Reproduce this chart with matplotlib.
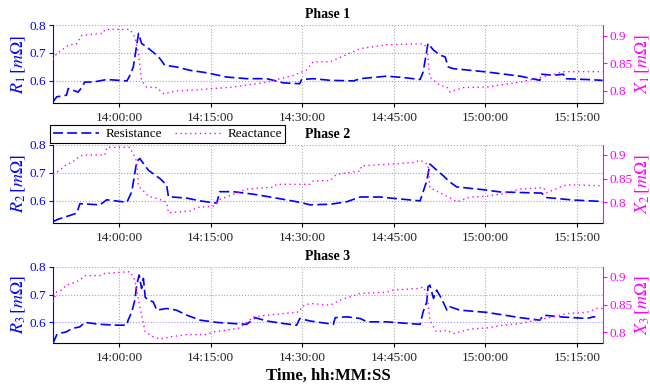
import numpy as np
import pandas as pd
import matplotlib
matplotlib.use('Agg')
import matplotlib.pyplot as plt
import matplotlib.dates as mdates

plt.rcParams['font.family'] = ['Liberation Serif', 'DejaVu Serif']
plt.rcParams['mathtext.fontset'] = 'stix'

# time in minutes after 14:00:00, values in mOhm
r1_t = [-10.8, -10.2, -8.6, -8.3, -6.7, -6.1, -5.6, -4.2, -2.0, 1.3, 1.8, 2.35, 3.2, 3.7, 4.5,
        6.2, 6.7, 7.5, 9.4, 11.6, 14.4, 17.6, 20.9, 24.2, 25.3, 26.9, 29.6, 29.9, 31.8, 34.6,
        38.4, 39.5, 43.8, 46.6, 49.3, 49.8, 50.6, 51.5, 52.6, 53.4, 53.9, 54.7, 60.2, 65.7,
        68.9, 69.2, 71.1, 72.8, 73.0, 76.6, 79.2]
r1_v = [0.525, 0.543, 0.549, 0.573, 0.560, 0.576, 0.596, 0.596, 0.605, 0.600, 0.620, 0.650, 0.770, 0.734, 0.722,
        0.692, 0.680, 0.656, 0.650, 0.638, 0.629, 0.614, 0.608, 0.608, 0.602, 0.593, 0.590, 0.605, 0.608, 0.602,
        0.600, 0.608, 0.617, 0.612, 0.605, 0.632, 0.734, 0.710, 0.692, 0.686, 0.650, 0.644, 0.632, 0.617,
        0.602, 0.624, 0.620, 0.624, 0.608, 0.605, 0.602]
x1_t = [-10.8, -10.2, -8.3, -6.9, -6.1, -2.6, -2.3, 1.8, 2.6, 3.2, 3.7, 4.5, 6.2, 7.3, 9.4, 12.7,
        18.7, 24.2, 28.5, 30.7, 31.8, 34.6, 36.2, 39.5, 43.8, 49.8, 50.4, 50.9, 52.6, 53.7, 54.2,
        56.4, 60.2, 65.7, 71.1, 72.8, 79.2]
x1_v = [0.857, 0.868, 0.883, 0.886, 0.901, 0.905, 0.912, 0.912, 0.898, 0.868, 0.819, 0.807, 0.806, 0.795, 0.800, 0.802,
        0.807, 0.816, 0.828, 0.838, 0.853, 0.853, 0.861, 0.877, 0.884, 0.886, 0.880, 0.825, 0.810, 0.807, 0.798,
        0.806, 0.807, 0.816, 0.830, 0.835, 0.835]

r2_t = [-10.8, -9.9, -8.6, -6.9, -6.4, -3.1, -2.0, 1.3, 2.1, 2.9, 3.4, 4.8, 6.7, 7.8, 8.1, 11.1,
        13.3, 16.0, 16.5, 18.7, 22.0, 25.3, 29.6, 31.3, 34.6, 37.3, 39.5, 42.7, 49.3, 50.4, 50.9,
        52.3, 53.1, 54.2, 55.3, 57.5, 59.7, 62.4, 65.7, 69.2, 70.0, 74.4, 79.2]
r2_v = [0.526, 0.535, 0.544, 0.556, 0.590, 0.586, 0.604, 0.595, 0.633, 0.740, 0.752, 0.710, 0.680, 0.657, 0.615, 0.610,
        0.600, 0.592, 0.633, 0.633, 0.624, 0.612, 0.595, 0.586, 0.588, 0.597, 0.614, 0.614, 0.600, 0.672, 0.732,
        0.705, 0.690, 0.667, 0.650, 0.645, 0.640, 0.632, 0.630, 0.628, 0.612, 0.603, 0.598]
x2_t = [-10.8, -9.9, -8.6, -7.7, -6.4, -5.3, -2.3, -2.0, 1.8, 2.9, 3.2, 4.0, 4.8, 6.7, 7.8, 8.1,
        11.9, 12.7, 15.4, 16.5, 18.7, 20.9, 25.3, 25.8, 31.3, 31.8, 34.6, 35.6, 39.5, 39.7, 43.8,
        48.2, 49.3, 50.6, 50.9, 52.6, 54.7, 55.3, 57.5, 60.2, 62.9, 65.7, 69.5, 70.0, 72.2, 73.3, 79.2]
x2_v = [0.859, 0.866, 0.880, 0.884, 0.898, 0.900, 0.900, 0.916, 0.916, 0.887, 0.834, 0.824, 0.813, 0.806, 0.800, 0.778,
        0.782, 0.789, 0.792, 0.806, 0.817, 0.828, 0.832, 0.838, 0.838, 0.845, 0.846, 0.859, 0.866, 0.877, 0.880,
        0.884, 0.889, 0.880, 0.831, 0.820, 0.806, 0.801, 0.811, 0.813, 0.818, 0.828, 0.831, 0.820, 0.832, 0.837, 0.835]

r3_t = [-10.8, -10.2, -9.9, -8.6, -7.7, -6.4, -5.6, -3.1, -0.4, 1.3, 1.5, 2.1, 2.6, 2.9, 3.3, 3.7,
        4.0, 4.3, 4.8, 5.6, 6.2, 7.8, 9.4, 11.1, 13.3, 16.0, 18.7, 20.9, 22.3, 24.2, 26.9, 29.1,
        29.6, 31.3, 35.1, 35.4, 37.3, 39.5, 40.6, 43.8, 49.3, 49.8, 50.4, 50.6, 50.9, 51.5, 52.0,
        52.8, 53.7, 54.2, 55.8, 60.2, 65.7, 68.9, 69.5, 72.2, 76.6, 77.7, 78.0]
r3_v = [0.525, 0.555, 0.560, 0.566, 0.578, 0.584, 0.600, 0.593, 0.590, 0.590, 0.608, 0.638, 0.680, 0.734, 0.770, 0.722,
        0.758, 0.690, 0.680, 0.674, 0.644, 0.650, 0.644, 0.626, 0.608, 0.600, 0.596, 0.593, 0.617, 0.605, 0.596, 0.590,
        0.614, 0.605, 0.593, 0.617, 0.620, 0.614, 0.602, 0.602, 0.593, 0.638, 0.674, 0.728, 0.734, 0.686, 0.716,
        0.686, 0.644, 0.656, 0.644, 0.636, 0.617, 0.608, 0.626, 0.620, 0.614, 0.620, 0.620]
x3_t = [-10.8, -10.2, -9.4, -8.6, -7.7, -6.4, -5.6, -3.1, -2.3, 1.8, 2.6, 3.2, 3.7, 4.3, 5.6, 6.7,
        8.4, 11.1, 14.4, 15.4, 17.6, 19.8, 22.0, 25.3, 29.6, 29.9, 31.3, 34.6, 36.2, 39.5, 43.8,
        44.9, 49.3, 49.8, 50.4, 50.6, 50.9, 51.5, 52.0, 53.7, 54.7, 55.8, 57.5, 60.2, 62.9, 65.7,
        68.4, 71.1, 73.3, 76.6, 78.2, 79.2]
x3_v = [0.855, 0.873, 0.876, 0.885, 0.888, 0.894, 0.902, 0.902, 0.906, 0.909, 0.894, 0.858, 0.831, 0.801, 0.792, 0.788,
        0.792, 0.796, 0.796, 0.801, 0.804, 0.808, 0.828, 0.832, 0.837, 0.846, 0.852, 0.849, 0.858, 0.870, 0.872,
        0.876, 0.879, 0.882, 0.870, 0.855, 0.822, 0.810, 0.801, 0.804, 0.798, 0.801, 0.806, 0.808, 0.813, 0.816,
        0.822, 0.828, 0.834, 0.836, 0.843, 0.843]

phases = ['Phase 1', 'Phase 2', 'Phase 3']
r_times = [r1_t, r2_t, r3_t]
r_vals = [r1_v, r2_v, r3_v]
x_times = [x1_t, x2_t, x3_t]
x_vals = [x1_v, x2_v, x3_v]
r_lims = [(0.521, 0.80), (0.522, 0.80), (0.526, 0.80)]
x_lims = [(0.778, 0.920), (0.757, 0.921), (0.781, 0.918)]

base = pd.Timestamp('2020-01-01 14:00:00')
def to_time(mins):
    return base + pd.to_timedelta(np.array(mins), unit='min')

blue = '#0000ff'
mag = '#ff00ff'
fig = plt.figure(figsize=(6.5, 3.87), dpi=100)
lefts = 53 / 650
width = 550 / 650
bottoms = [1 - 103 / 387, 1 - 222.7 / 387, 1 - 343 / 387]
heights = [78 / 387, 77.7 / 387, 76.3 / 387]

for i in range(3):
    ax = fig.add_axes([lefts, bottoms[i], width, heights[i]])
    ax2 = ax.twinx()
    lr, = ax.plot(to_time(r_times[i]), r_vals[i], color=blue, lw=1.2, linestyle=(0, (6, 2.5)),
                  label='Resistance')
    lx, = ax2.plot(to_time(x_times[i]), x_vals[i], color=mag, lw=1.0, linestyle=(0, (1, 2.5)),
                   label='Reactance')
    ax.set_xlim(to_time([-10.8])[0], to_time([79.25])[0])
    ax.set_ylim(*r_lims[i])
    ax2.set_ylim(*x_lims[i])
    ax.set_yticks([0.6, 0.7, 0.8])
    ax2.set_yticks([0.8, 0.85, 0.9])
    ax2.set_yticklabels(['0.8', '0.85', '0.9'])
    ax.xaxis.set_major_locator(mdates.MinuteLocator(byminute=[0, 15, 30, 45]))
    ax.xaxis.set_major_formatter(mdates.DateFormatter('%H:%M:%S'))
    ax.yaxis.grid(True, color='#9999ff', linestyle=':', lw=0.8)
    ax.xaxis.grid(True, color='#aaaaaa', linestyle=':', lw=0.8)
    for a in (ax, ax2):
        a.spines['top'].set_visible(False)
    ax.spines['right'].set_visible(False)
    ax2.spines['left'].set_visible(False)
    ax2.spines['bottom'].set_visible(False)
    ax.spines['left'].set_color(blue)
    ax2.spines['right'].set_color(mag)
    ax.tick_params(axis='y', colors=blue, labelsize=9.5, length=3, pad=2)
    ax2.tick_params(axis='y', colors=mag, labelsize=9.5, length=3, pad=2)
    ax.tick_params(axis='x', labelsize=9.5, labelcolor='#222222', length=3)
    ax.set_ylabel(r'$R_{%d}\,[m\Omega]$' % (i + 1), color=blue, fontsize=13, labelpad=1)
    ax2.set_ylabel(r'$X_{%d}\,[m\Omega]$' % (i + 1), color=mag, fontsize=13, labelpad=0)
    ax.set_title(phases[i], fontsize=10, fontweight='bold', pad=5)
    if i == 2:
        ax.set_xlabel('Time, hh:MM:SS', fontsize=12, fontweight='bold', labelpad=3)
    if i == 1:
        leg = fig.legend([lr, lx], ['Resistance', 'Reactance'], ncol=2, loc='lower left',
                         bbox_to_anchor=(50 / 650, 1 - 143 / 387), fontsize=9.5, handlelength=3.5,
                         fancybox=False, framealpha=1, edgecolor='black', borderpad=0.2,
                         columnspacing=1.0, handletextpad=0.5, borderaxespad=0)
        leg.get_frame().set_linewidth(0.8)

plt.savefig('out.png', dpi=100)
